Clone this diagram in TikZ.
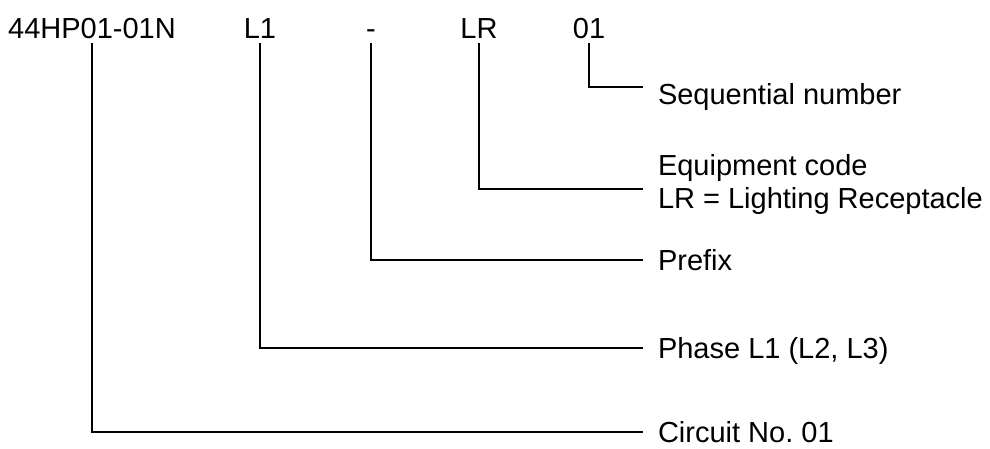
\documentclass[tikz,border=0pt]{standalone}
\usepackage{fontspec}
\setmainfont{Liberation Sans}
\usepackage{tikz}
\usetikzlibrary{positioning, calc}
\frenchspacing

\begin{document}
\begin{tikzpicture}[x=1pt, y=-1pt, line width=2pt,
    font=\fontsize{29}{33}\selectfont,
    part/.style={anchor=base, inner sep=0pt, text depth=0pt, outer ysep=5pt},
    desc/.style={anchor=west, inner sep=0pt, outer xsep=15pt, align=left},
    descone/.style={desc, text height=21pt, text depth=0pt}]
    \useasboundingbox (0,0) rectangle (990,448);

    % Code parts
    \node[part] (circ) at (92,38) {44HP01-01N};
    \node[part] (phase) at (260,38) {L1};
    \node[part] (pref) at (371,38) {-};
    \node[part] (equip) at (479,38) {LR};
    \node[part] (seq) at (589,38) {01};

    % Descriptions
    \node[descone, yshift=-7pt] (seqd) at (643,87) {Sequential number};
    \node[desc, yshift=5pt] (equipd) at (643,189) {Equipment code\\LR = Lighting Receptacle};
    \node[descone] (prefd) at (643,260) {Prefix};
    \node[descone] (phased) at (643,348) {Phase L1 (L2, L3)};
    \node[descone] (circd) at (643,432) {Circuit No. 01};

    % Leaders
    \draw (seq.south) |- ([yshift=7pt]seqd.west);
    \draw (equip.south) |- ([yshift=-5pt]equipd.west);
    \draw (pref.south) |- (prefd.west);
    \draw (phase.south) |- (phased.west);
    \draw (circ.south) |- (circd.west);
\end{tikzpicture}
\end{document}
